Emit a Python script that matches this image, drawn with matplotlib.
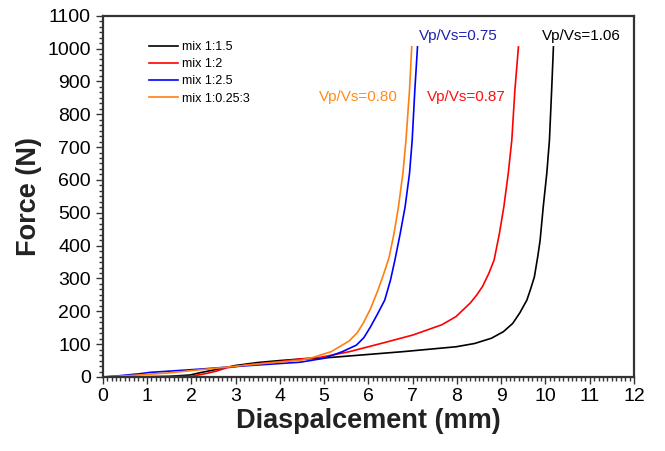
import matplotlib
matplotlib.use("Agg")
import matplotlib.pyplot as plt
from matplotlib.ticker import MultipleLocator

plt.rcParams["font.family"] = ["Liberation Sans", "DejaVu Sans"]

# force-displacement curves
x_15 = [0, 0.5, 1.0, 1.5, 1.97, 2.2, 2.42, 2.72, 3.0, 3.5, 4.0, 4.5, 4.92, 5.57, 6.77,
        7.98, 8.4, 8.78, 9.05, 9.26, 9.42, 9.58, 9.67, 9.75, 9.83, 9.88, 9.95, 10.03,
        10.09, 10.14, 10.18]
f_15 = [0, 0, 1, 2, 6, 13, 19, 27, 35, 44, 50, 55, 57, 64, 77,
        92, 102, 118, 138, 163, 195, 234, 270, 305, 370, 417, 518, 620,
        721, 874, 1005]

x_2 = [0, 1.0, 2.0, 2.35, 2.57, 2.8, 3.33, 4.08, 4.46, 4.92, 5.57, 6.37, 7.01, 7.66,
       7.98, 8.30, 8.45, 8.58, 8.72, 8.84, 8.96, 9.06, 9.16, 9.24, 9.31, 9.39]
f_2 = [0, 0, 2, 11, 18, 28, 38, 48, 55, 60, 77, 105, 128, 159,
       184, 225, 250, 276, 315, 356, 437, 518, 620, 721, 874, 1005]

x_25 = [0, 0.39, 0.84, 1.07, 2.2, 3.33, 4.46, 5.00, 5.41, 5.73, 5.9, 6.05, 6.2, 6.37,
        6.5, 6.60, 6.72, 6.83, 6.93, 6.99, 7.05, 7.11]
f_25 = [0, 4, 10, 14, 24, 35, 45, 57, 77, 97, 120, 153, 190, 234,
        295, 356, 437, 518, 620, 721, 874, 1005]

x_3 = [0, 0.69, 1.45, 2.2, 2.95, 3.7, 4.46, 4.76, 5.16, 5.57, 5.75, 5.89, 6.05, 6.21,
       6.35, 6.47, 6.58, 6.68, 6.78, 6.85, 6.93, 6.98]
f_3 = [0, 5, 12, 22, 32, 42, 51, 60, 77, 110, 135, 165, 208, 262,
       315, 365, 437, 518, 620, 721, 874, 1005]

series_labels = ["mix 1:1.5", "mix 1:2", "mix 1:2.5", "mix 1:0.25:3"]
ratio_labels = ["Vp/Vs=1.06", "Vp/Vs=0.87", "Vp/Vs=0.75", "Vp/Vs=0.80"]
ratio_pos = [(9.91, 1038), (7.33, 852), (7.14, 1038), (4.89, 852)]

colors = ["black", "#ff0000", "#0000ff", "#ff7f0e"]
text_colors = ["black", "#ff1010", "#2020b0", "#ff8c1a"]

fig = plt.figure(figsize=(6.65, 4.51), dpi=100)
ax = fig.add_axes([0.1544, 0.1641, 0.7990, 0.8011])

for xs, fs, c, lab in zip([x_15, x_2, x_25, x_3], [f_15, f_2, f_25, f_3], colors, series_labels):
    ax.plot(xs, fs, color=c, lw=1.2, label=lab)

for lab, (tx, ty), c in zip(ratio_labels, ratio_pos, text_colors):
    ax.text(tx, ty, lab, color=c, fontsize=11, ha="left", va="center")

ax.set_xlim(0, 12)
ax.set_ylim(0, 1100)
ax.xaxis.set_major_locator(MultipleLocator(1))
ax.xaxis.set_minor_locator(MultipleLocator(0.1))
ax.yaxis.set_major_locator(MultipleLocator(100))
ax.yaxis.set_minor_locator(MultipleLocator(100 / 6))

frame = "#333333"
for sp in ax.spines.values():
    sp.set_linewidth(1.6)
    sp.set_color(frame)
ax.tick_params(which="both", direction="out", top=False, right=False, color=frame,
               labelsize=14, width=1.0)
ax.tick_params(which="major", length=5)
ax.tick_params(which="minor", length=3)
ax.tick_params(axis="x", pad=3)

ax.set_xlabel("Diaspalcement (mm)", fontsize=19.5, fontweight="bold", color="#222222", labelpad=2)
ax.set_ylabel("Force (N)", fontsize=19.5, fontweight="bold", color="#222222", labelpad=4)

leg = ax.legend(loc="upper left", bbox_to_anchor=(0.088, 0.93), frameon=False,
                fontsize=9, handlelength=2.3, handletextpad=0.3, labelspacing=0.42,
                borderaxespad=0, borderpad=0)

fig.savefig("out.png", dpi=100)
